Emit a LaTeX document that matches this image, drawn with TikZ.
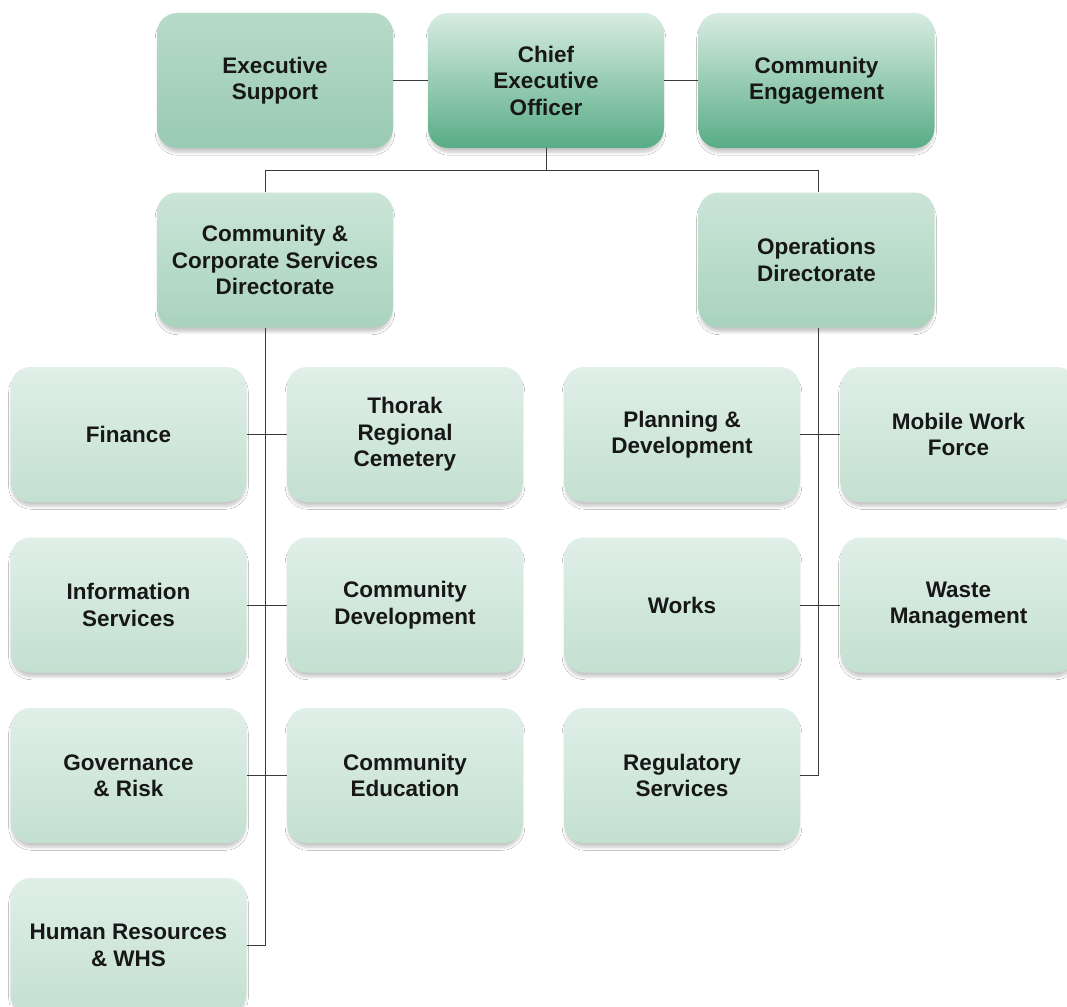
\documentclass[tikz,border=0pt]{standalone}
\usepackage{fontspec}
\setmainfont{Liberation Sans}
\usetikzlibrary{shadows.blur}
\definecolor{txt}{HTML}{171717}
\definecolor{wire}{HTML}{3A3A3A}
\definecolor{paleTop}{HTML}{E0EFE8}
\definecolor{paleBot}{HTML}{C3E0D1}
\definecolor{midTop}{HTML}{CBE5D8}
\definecolor{midBot}{HTML}{A9D3BE}
\definecolor{deepTop}{HTML}{D8ECE2}
\definecolor{deepBot}{HTML}{58AC86}
\definecolor{sideTop}{HTML}{B7DBC9}
\definecolor{sideBot}{HTML}{99CAB2}
\tikzset{
  unit/.style={rounded corners=20pt, minimum width=236pt, minimum height=135pt,
    inner sep=0pt, align=center, text=txt,
    font=\fontsize{22.5}{26.5}\selectfont\bfseries,
    blur shadow={shadow xshift=0pt, shadow yshift=-5pt, shadow blur steps=6,
      shadow blur radius=3pt, shadow opacity=22, shadow scale=0.99}},
  pale/.style={unit, top color=paleTop, bottom color=paleBot},
  mid/.style={unit, top color=midTop, bottom color=midBot},
  deep/.style={unit, top color=deepTop, bottom color=deepBot},
  side/.style={unit, top color=sideTop, bottom color=sideBot},
  wirel/.style={draw=wire, line width=0.9pt}
}
\begin{document}
\begin{tikzpicture}[x=1pt, y=-1pt]
\useasboundingbox (0,0) rectangle (1067,1006);
\clip (0,0) rectangle (1067,1006);
\fill[white] (0,0) rectangle (1067,1006);

% executive level
\node[side] (es)  at (275,80.5) {Executive\\Support};
\node[deep] (ceo) at (546,80.5) {Chief\\Executive\\Officer};
\node[deep] (ce)  at (816.5,80.5) {Community\\Engagement};

% directorates
\node[mid] (ccs) at (275,260) {Community \&\\Corporate Services\\Directorate};
\node[mid] (ops) at (816.5,260) {Operations\\Directorate};

% community & corporate services units
\node[pale] (fin)  at (128.5,434.5) {Finance};
\node[pale] (trc)  at (405,434.5) {Thorak\\Regional\\Cemetery};
\node[pale] (info) at (128.5,605) {Information\\Services};
\node[pale] (cdev) at (405,605) {Community\\Development};
\node[pale] (gov)  at (128.5,775.5) {Governance\\\& Risk};
\node[pale] (cedu) at (405,775.5) {Community\\Education};
\node[pale] (hr)   at (128.5,945.5) {Human Resources\\\& WHS};

% operations units
\node[pale] (plan)  at (682,434.5) {Planning \&\\Development};
\node[pale] (mwf)   at (958.5,434.5) {Mobile Work\\Force};
\node[pale] (works) at (682,605) {Works};
\node[pale] (waste) at (958.5,605) {Waste\\Management};
\node[pale] (reg)   at (682,775.5) {Regulatory\\Services};

% junctions of the reporting lines
\coordinate (jL) at (265,170);
\coordinate (jR) at (818,170);

% connectors
\draw[wirel] (es.east) -- (ceo.west);
\draw[wirel] (ceo.east) -- (ce.west);
\draw[wirel] (ceo.south) -- (ceo.south |- jL);
\draw[wirel] (jL |- ccs.north) -- (jL) -- (jR) -- (jR |- ops.north);
\draw[wirel] (jL |- ccs.south) -- (jL |- hr.east) -- (hr.east);
\draw[wirel] (fin.east) -- (trc.west);
\draw[wirel] (info.east) -- (cdev.west);
\draw[wirel] (gov.east) -- (cedu.west);
\draw[wirel] (jR |- ops.south) -- (jR |- reg.east) -- (reg.east);
\draw[wirel] (plan.east) -- (mwf.west);
\draw[wirel] (works.east) -- (waste.west);
\end{tikzpicture}
\end{document}
